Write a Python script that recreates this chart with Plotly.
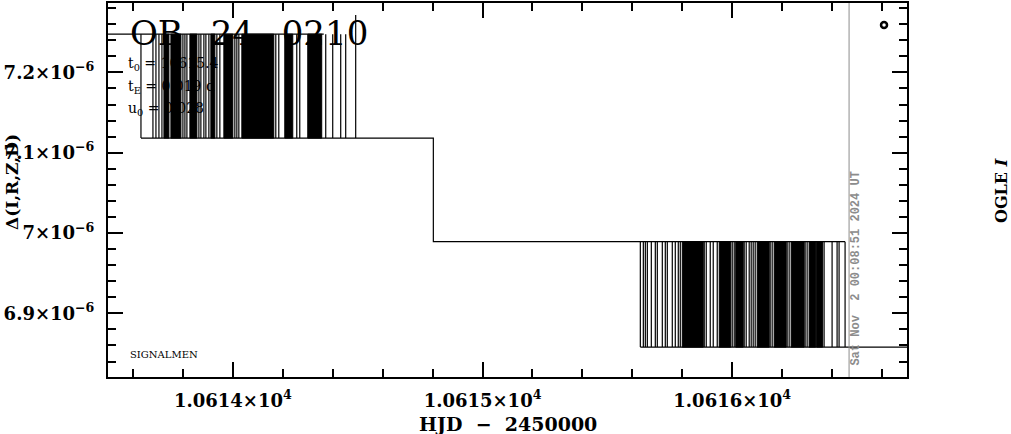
import plotly.graph_objects as go

# ---------------- data (HJD - 2450000, flux-difference values) ----------------
LEVELS_1 = [7.2476e-6, 7.1182e-6]   # upper / lower level, first cluster
LEVELS_2 = [6.9892e-6, 6.8579e-6]   # upper / lower level, second cluster

# envelope of the step curve
env_hi1_t = [10613.45, 10614.364]
env_mid_t = [10613.632, 10614.803, 10614.803, 10616.452]
env_lo2_t = [10615.632, 10616.75]

# isolated transitions (single vertical strokes)
spikes_1 = [10613.632, 10613.680, 10613.692, 10613.704, 10613.716, 10613.800,
            10613.808, 10613.816, 10613.864, 10613.872, 10613.884, 10613.892,
            10613.904, 10613.936, 10613.948, 10614.008, 10614.016, 10614.024,
            10614.172, 10614.184, 10614.256, 10614.268, 10614.372, 10614.400,
            10614.432, 10614.452]
spikes_2 = [10615.632, 10615.644, 10615.652, 10615.660, 10615.676, 10615.692,
            10615.700, 10615.720, 10615.732, 10615.740, 10615.760, 10615.772,
            10615.784, 10615.792, 10615.888, 10615.896, 10615.912, 10615.924,
            10615.940, 10616.000, 10616.008, 10616.048, 10616.056, 10616.068,
            10616.076, 10616.084, 10616.092, 10616.152, 10616.160, 10616.220,
            10616.228, 10616.292, 10616.300, 10616.368, 10616.400, 10616.420,
            10616.428, 10616.452]

# dense bursts of transitions (start, end)
bands_1 = [(10613.724, 10613.744), (10613.752, 10613.792), (10613.828, 10613.856),
           (10613.912, 10613.928), (10613.964, 10614.000), (10614.036, 10614.164),
           (10614.208, 10614.240), (10614.300, 10614.356)]
bands_2 = [(10615.800, 10615.884), (10615.948, 10615.994), (10616.014, 10616.044),
           (10616.100, 10616.148), (10616.168, 10616.216), (10616.236, 10616.288),
           (10616.308, 10616.334), (10616.338, 10616.362)]

# strokes exceeding the upper level
tall_t = [10614.492]
tall_top = [7.2715e-6]

now_hjd = 10616.468
marker_t = [10616.608]
marker_v = [7.2591e-6]

x_ticks = [10614, 10615, 10616]
x_ticktext = ["1.0614×10<sup>4</sup>", "1.0615×10<sup>4</sup>", "1.0616×10<sup>4</sup>"]
y_ticks = [6.9e-6, 7.0e-6, 7.1e-6, 7.2e-6]
y_ticktext = ["6.9×10<sup>−6</sup>", "7×10<sup>−6</sup>", "7.1×10<sup>−6</sup>", "7.2×10<sup>−6</sup>"]

X_RANGE = [10613.50, 10616.70]
Y_RANGE = [6.8207e-6, 7.2864e-6]

# ---------------- figure ----------------
fig = go.Figure()
BLACK = "#000000"

def band_poly(bands, lo, hi):
    xs, ys = [], []
    for a, b in bands:
        xs += [a, b, b, a, a, None]
        ys += [lo, lo, hi, hi, lo, None]
    return xs, ys

def spike_path(ts, lo, hi):
    xs, ys = [], []
    for t in ts:
        xs += [t, t, None]
        ys += [lo, hi, None]
    return xs, ys

for bands, (hi, lo) in ((bands_1, LEVELS_1), (bands_2, LEVELS_2)):
    bx, by = band_poly(bands, lo, hi)
    fig.add_trace(go.Scatter(x=bx, y=by, mode="lines", fill="toself",
                             fillcolor=BLACK, line=dict(color=BLACK, width=1),
                             hoverinfo="skip", showlegend=False))

for ts, (hi, lo) in ((spikes_1, LEVELS_1), (spikes_2, LEVELS_2)):
    sx, sy = spike_path(ts, lo, hi)
    fig.add_trace(go.Scatter(x=sx, y=sy, mode="lines",
                             line=dict(color=BLACK, width=1.2),
                             hoverinfo="skip", showlegend=False))

tx, ty = [], []
for t, top in zip(tall_t, tall_top):
    tx += [t, t, None]
    ty += [LEVELS_1[1], top, None]
fig.add_trace(go.Scatter(x=tx, y=ty, mode="lines", line=dict(color=BLACK, width=1.2),
                         hoverinfo="skip", showlegend=False))

ex = env_hi1_t + [None] + env_mid_t + [None] + env_lo2_t
ey = ([LEVELS_1[0]] * 2 + [None] +
      [LEVELS_1[1], LEVELS_1[1], LEVELS_2[0], LEVELS_2[0]] + [None] +
      [LEVELS_2[1]] * 2)
fig.add_trace(go.Scatter(x=ex, y=ey, mode="lines", line=dict(color=BLACK, width=1.2),
                         hoverinfo="skip", showlegend=False))

fig.add_trace(go.Scatter(x=marker_t, y=marker_v, mode="markers",
                         marker=dict(symbol="circle-open", size=6, color=BLACK,
                                     line=dict(color=BLACK, width=2.5)),
                         hoverinfo="skip", showlegend=False))

fig.add_vline(x=now_hjd, line=dict(color="#8c8c8c", width=1))

SERIF = "DejaVu Serif"
axis_common = dict(showline=True, linewidth=2, linecolor=BLACK, mirror="ticks",
                   ticks="inside", ticklen=15, tickwidth=2, tickcolor=BLACK,
                   showgrid=False, zeroline=False,
                   tickfont=dict(family=SERIF, size=18, color=BLACK, weight="bold"))

fig.update_xaxes(range=X_RANGE, tickmode="array", tickvals=x_ticks, ticktext=x_ticktext,
                 ticklabelstandoff=6,
                 minor=dict(ticks="inside", ticklen=8, tickwidth=2, tickcolor=BLACK,
                            tick0=10614, dtick=0.2, showgrid=False),
                 **axis_common)
fig.update_yaxes(range=Y_RANGE, tickmode="array", tickvals=y_ticks, ticktext=y_ticktext,
                 ticklabelstandoff=8,
                 minor=dict(ticks="inside", ticklen=8, tickwidth=2, tickcolor=BLACK,
                            tick0=6.9e-6, dtick=0.02e-6, showgrid=False),
                 **axis_common)

L, R, T, B = 108, 104, 1, 57
W, H = 1011, 434
PW, PH = W - L - R, H - T - B

def px(x):
    return (x - L) / PW

def py(y):
    return (H - B - y) / PH

GAP = "\u00a0\u2002"
ann = [
    dict(text="OB" + GAP + "24" + GAP + "0210", x=px(128), y=py(31), xanchor="left", yanchor="middle",
         font=dict(family=SERIF, size=34, color=BLACK)),
    dict(text="t<sub>0</sub> = 10615.4", x=px(126), y=py(62), xanchor="left", yanchor="middle",
         font=dict(family=SERIF, size=14, color=BLACK)),
    dict(text="t<sub>E</sub> = 0.019 d", x=px(126), y=py(85), xanchor="left", yanchor="middle",
         font=dict(family=SERIF, size=14, color=BLACK)),
    dict(text="u<sub>0</sub> = 0.028", x=px(126), y=py(108), xanchor="left", yanchor="middle",
         font=dict(family=SERIF, size=14, color=BLACK)),
    dict(text="SIGNALMEN", x=px(128), y=py(354), xanchor="left", yanchor="middle",
         font=dict(family=SERIF, size=10, color=BLACK)),
    dict(text="Sat Nov\u00a0\u00a02 00:08:51 2024 UT", x=px(856), y=py(268), textangle=-90,
         xanchor="center", yanchor="middle",
         font=dict(family="Liberation Mono", size=12, color="#8c8c8c", weight="bold")),
    dict(text="OGLE <i>I</i>", x=px(1002), y=py(190), textangle=-90,
         xanchor="center", yanchor="middle",
         font=dict(family=SERIF, size=16, color=BLACK, weight="bold")),
    dict(text="Δ(I,R,Z,D)", x=px(12), y=py(181), textangle=-90,
         xanchor="center", yanchor="middle",
         font=dict(family=SERIF, size=17, color=BLACK, weight="bold")),
    dict(text="HJD\u00a0\u00a0−\u00a0\u00a02450000", x=px(508), y=py(424),
         xanchor="center", yanchor="middle",
         font=dict(family=SERIF, size=19, color=BLACK, weight="bold")),
]
for a in ann:
    a.update(xref="paper", yref="paper", showarrow=False)

fig.update_layout(width=W, height=H, margin=dict(l=L, r=R, t=T, b=B),
                  plot_bgcolor="white", paper_bgcolor="white",
                  annotations=ann, showlegend=False)

fig.write_html("out.html", config={"displayModeBar": False},
               post_script="document.body.style.margin='0';document.body.style.overflow='hidden';")
